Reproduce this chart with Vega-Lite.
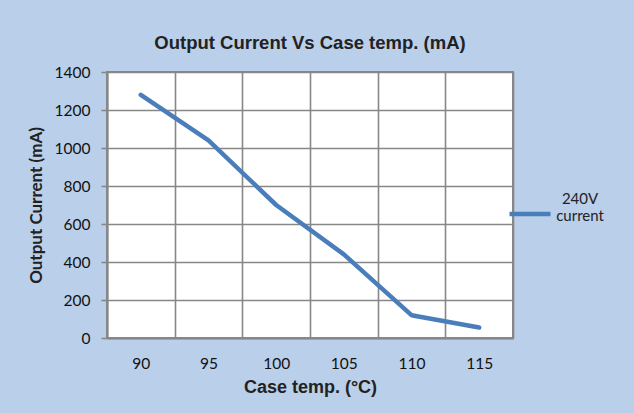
{
  "$schema": "https://vega.github.io/schema/vega-lite/v6.json",
  "width": 406,
  "height": 266,
  "autosize": {"type": "none"},
  "padding": {"left": 107, "top": 72, "right": 121, "bottom": 75},
  "background": "#bacfe9",
  "title": {
    "text": "Output Current Vs Case temp. (mA)",
    "font": "Liberation Sans",
    "fontSize": 18.5,
    "fontWeight": "bold",
    "color": "#222222",
    "anchor": "middle",
    "offset": 13
  },
  "data": {
    "values": [
      {"temp": "90", "current": 1280, "series": "240V current"},
      {"temp": "95", "current": 1040, "series": "240V current"},
      {"temp": "100", "current": 700, "series": "240V current"},
      {"temp": "105", "current": 440, "series": "240V current"},
      {"temp": "110", "current": 120, "series": "240V current"},
      {"temp": "115", "current": 55, "series": "240V current"}
    ]
  },
  "mark": {"type": "line", "strokeWidth": 4.5, "strokeCap": "round", "strokeJoin": "round"},
  "encoding": {
    "x": {
      "field": "temp",
      "type": "ordinal",
      "sort": null,
      "bandPosition": 0.5,
      "scale": {"type": "band", "paddingInner": 0, "paddingOuter": 0},
      "axis": {
        "title": "Case temp. (°C)",
        "titleFont": "Liberation Sans",
        "titleFontSize": 18,
        "titleFontWeight": "bold",
        "titleColor": "#222222",
        "titlePadding": 7,
        "labelFont": "Lato",
        "labelFontSize": 15.5,
        "labelColor": "#111111",
        "labelAngle": 0,
        "labelPadding": 18,
        "ticks": false,
        "tickBand": "extent",
        "grid": true,
        "gridColor": "#878787",
        "gridWidth": 1.6,
        "domainColor": "#878787",
        "domainWidth": 2
      }
    },
    "y": {
      "field": "current",
      "type": "quantitative",
      "scale": {"domain": [0, 1400]},
      "axis": {
        "values": [0, 200, 400, 600, 800, 1000, 1200, 1400],
        "format": "d",
        "title": "Output Current (mA)",
        "titleFont": "Lato",
        "titleFontSize": 17,
        "titleFontWeight": "bold",
        "titleColor": "#222222",
        "titlePadding": 9,
        "labelFont": "Lato",
        "labelFontSize": 15.5,
        "labelColor": "#111111",
        "labelPadding": 11,
        "tickSize": 6,
        "tickColor": "#878787",
        "tickWidth": 1.6,
        "grid": true,
        "gridColor": "#878787",
        "gridWidth": 1.6,
        "domainColor": "#878787",
        "domainWidth": 2
      }
    },
    "color": {
      "field": "series",
      "type": "nominal",
      "scale": {"range": ["#4a7ebb"]},
      "legend": {
        "title": null,
        "orient": "none",
        "legendX": 400,
        "legendY": 104,
        "padding": 0,
        "symbolType": "M-1,0.73L1,0.73",
        "symbolSize": 1681,
        "symbolStrokeWidth": 4.5,
        "labelFont": "Lato",
        "labelFontSize": 15,
        "labelColor": "#222222",
        "labelAlign": "center",
        "labelBaseline": "middle",
        "labelLineHeight": 15,
        "labelOffset": 27,
        "labelExpr": "['240V', 'current']"
      }
    }
  },
  "config": {
    "view": {"fill": "white", "stroke": "#878787", "strokeWidth": 2}
  }
}
